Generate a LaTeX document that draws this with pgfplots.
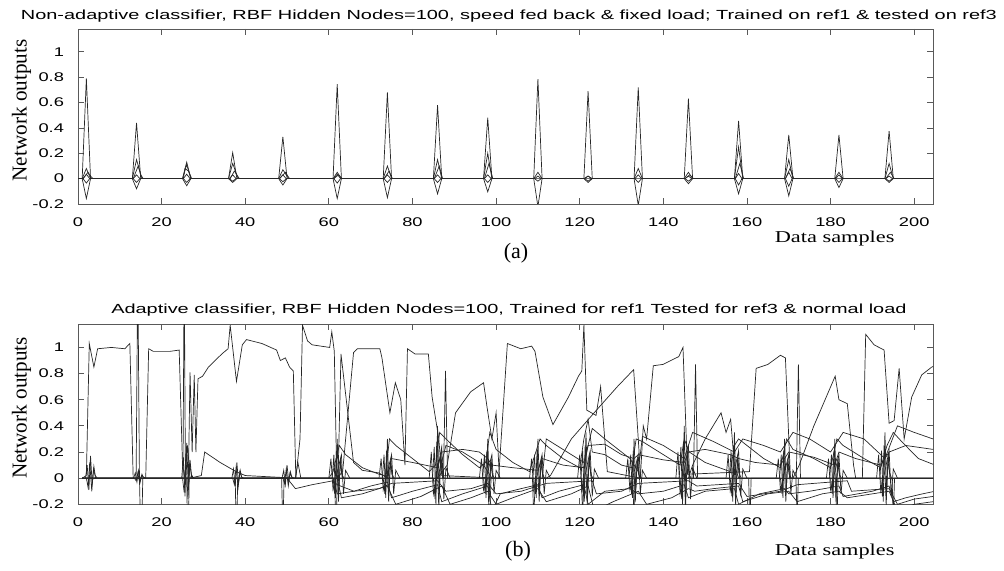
\documentclass[border=0pt]{standalone}
\usepackage{fontspec}
\usepackage{pgfplots}
\pgfplotsset{compat=1.18}
\setmainfont{Liberation Serif}
\newfontfamily\mltitle[FakeStretch=1.51]{Liberation Sans}
\newfontfamily\mltick[FakeStretch=1.45]{Liberation Sans}
\newfontfamily\serxlab[FakeStretch=1.345]{Liberation Serif}

\pgfplotsset{
  matlabstyle/.style={
    scale only axis,
    width=427.5pt,
    xmin=0, xmax=204.5,
    ymin=-0.2,
    xtick={0,20,...,200},
    ytick={-0.2,0,0.2,0.4,0.6,0.8,1},
    tick align=inside,
    xtick pos=both, ytick pos=both,
    major tick length=3pt,
    axis line style={black!65, line width=0.4pt},
    tick style={black!65, line width=0.4pt},
    /pgf/number format/assume math mode=true,
    /pgf/number format/fixed,
    xticklabel style={font=\mltick\fontsize{6.3}{7}\selectfont, yshift=-3.25pt},
    yticklabel style={font=\mltick\fontsize{6.3}{7}\selectfont, xshift=-3.5pt},
    every axis title shift=0pt,
    title style={font=\mltitle\fontsize{6.6}{8}\selectfont, anchor=base},
    xlabel style={font=\serxlab\fontsize{8.3}{10}\selectfont, anchor=base},
    ylabel style={font=\fontsize{10.6}{12}\selectfont, anchor=center,
                  at={(axis description cs:-0.066,0.535)}},
    cycle list={{black!85, solid, mark=none}},
    every axis plot post/.append style={black!85, solid, mark=none, line width=0.35pt},
  }
}

\begin{document}
\begin{tikzpicture}
\path[use as bounding box] (0,0) rectangle (502pt,-285.5pt);

%% ---------------- panel (a) ----------------
\begin{axis}[matlabstyle,
  at={(39pt,-14.5pt)}, anchor=north west,
  height=87.5pt, ymax=1.18,
  title={Non-adaptive classifier, RBF Hidden Nodes=100, speed fed back \& fixed load; Trained on ref1 \& tested on ref3},
  title style={at={(axis description cs:0.504,1)}, yshift=4.85pt},
  xlabel={Data samples},
  xlabel style={at={(axis description cs:0.885,0)}, yshift=-19pt},
  ylabel={Network outputs},
]
% main positive spikes
\addplot coordinates {(0,0)(1,0)(2,0.79)(3,0)(13,0)(14,0.44)(15,0)(25,0)(26,0.13)(27,0)
(36,0)(37,0.205)(38,0)(48,0)(49,0.33)(50,0)(61,0)(62,0.745)(63,0)(73,0)(74,0.68)(75,0)
(85,0)(86,0.58)(87,0)(97,0)(98,0.48)(99,0)(109,0)(110,0.785)(111,0)(121,0)(122,0.69)(123,0)
(133,0)(134,0.72)(135,0)(145,0)(146,0.63)(147,0)(157,0)(158,0.455)(159,0)(169,0)(170,0.345)(171,0)
(181,0)(182,0.345)(183,0)(193,0)(194,0.375)(195,0)(204.5,0)};
% negative dips
\addplot coordinates {(0,0)(1,0)(2,-0.157)(3,0)(13,0)(14,-0.08)(15,0)(25,0)(26,-0.056)(27,0)
(36,0)(37,-0.03)(38,0)(48,0)(49,-0.05)(50,0)(61,0)(62,-0.157)(63,0)(73,0)(74,-0.15)(75,0)
(85,0)(86,-0.12)(87,0)(97,0)(98,-0.104)(99,0)(109,0)(110,-0.22)(111,0)(121,0)(122,-0.03)(123,0)
(133,0)(134,-0.21)(135,0)(145,0)(146,-0.04)(147,0)(157,0)(158,-0.12)(159,0)(169,0)(170,-0.136)(171,0)
(181,0)(182,-0.07)(183,0)(193,0)(194,-0.03)(195,0)(204.5,0)};
% secondary spikes
\addplot coordinates {(0,0)(1,0)(2,0.08)(3,0)(13,0)(14,0.15)(15.3,0)(25,0)(26,0.11)(27,0)
(36,0)(37,0.12)(38.3,0)(48,0)(49,0.07)(50.4,0)(61,0)(62,0.05)(63,0)(73,0)(74,0.1)(75,0)
(85,0)(86,0.15)(87,0)(97,0)(98,0.2)(99,0)(109,0)(110,0.05)(111,0)(121,0)(122,0.02)(123,0)
(133,0)(134,0.08)(135,0)(145,0)(146,0.05)(147,0)(157,0)(158,0.25)(159,0)(169,0)(170,0.15)(171,0)
(181,0)(182,0.05)(183,0)(193,0)(194,0.12)(195,0)(204.5,0)};
% third lines
\addplot coordinates {(0,0)(1.2,0)(2.4,0.05)(3,0.02)(3.6,0)(13.2,0)(14.4,0.1)(15,0.03)(15.6,0)
(25.2,0)(25.6,0.08)(26.4,0.06)(27.2,0)(36.4,0)(37.4,0.06)(38.6,0)(48.2,0)(49.6,0.05)(50.6,0)
(61.2,0)(62.3,0.03)(63.2,0)(73.2,0)(74.4,0.06)(75.2,0)(85.2,0)(86.4,0.1)(87.2,0)(97.2,0)(98.3,0.12)(99.2,0)
(145.2,0)(146.3,0.03)(147.2,0)(157.2,0)(158.3,0.12)(159.2,0)(169.2,0)(170.3,0.08)(171.2,0)
(193.2,0)(194.3,0.05)(195.2,0)(204.5,0)};
% small diamonds
\addplot coordinates {(0,0)(1.2,0)(2,0.035)(2.8,0)(13.2,0)(14,0.03)(14.8,0)(25.2,0)(26,0.035)(26.8,0)
(36.2,0)(37,0.03)(37.8,0)(48.2,0)(49,0.03)(49.8,0)(61.2,0)(62,0.035)(62.8,0)(73.2,0)(74,0.03)(74.8,0)
(85.2,0)(86,0.03)(86.8,0)(97.2,0)(98,0.03)(98.8,0)(109.2,0)(110,0.02)(110.8,0)(121.2,0)(122,0.02)(122.8,0)
(133.2,0)(134,0.03)(134.8,0)(145.2,0)(146,0.02)(146.8,0)(157.2,0)(158,0.04)(158.8,0)(169.2,0)(170,0.05)(170.8,0)
(181.2,0)(182,0.03)(182.8,0)(193.2,0)(194,0.02)(194.8,0)(204.5,0)};
\addplot coordinates {(0,0)(1.2,0)(2,-0.035)(2.8,0)(13.2,0)(14,-0.03)(14.8,0)(25.2,0)(26,-0.03)(26.8,0)
(36.2,0)(37,-0.02)(37.8,0)(48.2,0)(49,-0.025)(49.8,0)(61.2,0)(62,-0.035)(62.8,0)(73.2,0)(74,-0.03)(74.8,0)
(85.2,0)(86,-0.03)(86.8,0)(97.2,0)(98,-0.03)(98.8,0)(109.2,0)(110,-0.02)(110.8,0)(121.2,0)(122,-0.02)(122.8,0)
(133.2,0)(134,-0.03)(134.8,0)(145.2,0)(146,-0.02)(146.8,0)(157.2,0)(158,-0.05)(158.8,0)(169.2,0)(170,-0.06)(170.8,0)
(181.2,0)(182,-0.03)(182.8,0)(193.2,0)(194,-0.02)(194.8,0)(204.5,0)};
\end{axis}

%% ---------------- panel (b) ----------------
\begin{axis}[matlabstyle,
  at={(39pt,-162.15pt)}, anchor=north west,
  height=90pt, ymax=1.177,
  title={Adaptive classifier, RBF Hidden Nodes=100, Trained for ref1 Tested for ref3 \& normal load},
  title style={at={(axis description cs:0.504,1)}, yshift=5.15pt},
  xlabel={Data samples},
  xlabel style={at={(axis description cs:0.885,0)}, yshift=-25.5pt},
  ylabel={Network outputs},
]
% B1 main output
\addplot coordinates {(1,0)(2,0.02)(2.7,1.03)(3.8,0.85)(4.7,0.99)(8,1.0)(11.2,0.99)(12.4,1.03)(13.2,0.0)
(16.2,0.0)(16.9,0.99)(18,0.97)(22,0.97)(24.2,0.98)(25,0.1)(25.6,0.0)(26.4,0.0)(26.8,0.81)(27.3,0.2)
(27.8,0.79)(28.2,0.2)(28.7,0.76)(29.8,0.78)(31.2,0.85)(34.4,0.95)(35.9,0.99)(36.4,1.17)(37.9,0.74)
(39.3,1.02)(40.3,1.06)(44,1.03)(47.5,0.98)(48.4,0.9)(49.6,0.92)(50.6,0.85)(51.5,0.82)(52.1,0.0)
(53.1,0.3)(53.7,1.17)(54.9,1.05)(56,1.02)(60.2,1.0)(60.7,1.12)(61.3,0.97)(61.9,0.0)(63.3,0.05)
(65.9,0.96)(66.8,0.99)(72.2,0.99)(72.7,0.92)(74.6,0.5)(75.9,0.73)(77.2,0.6)(78.2,0.1)(78.8,0.99)
(80.6,0.95)(83.8,0.95)(84.7,0.62)(86.3,0.3)(87,0.02)(100.6,0.0)(102.7,1.03)(105.9,0.99)(108.5,1.01)
(109.3,0.97)(111.2,0.62)(113.6,0.41)(117.3,0.62)(119.7,0.78)(120.5,0.82)(121,1.17)(121.7,0.52)
(123.9,0.48)(125,0.7)(126.6,0.05)(134.5,0.0)(135.2,0.4)(136,0.3)(137.6,0.86)(139.9,0.87)(143.7,0.93)
(144.7,1.0)(145.8,0.03)(160.6,0.05)(162.2,0.84)(165,0.87)(168,0.94)(169.2,0.92)(170.4,0.0)(187.6,0.0)
(188.4,1.1)(190.4,1.02)(192.8,0.98)(194,0.42)(195.2,0.44)(196.4,0.84)(197.6,0.3)(199.4,0.62)
(201.8,0.79)(204.2,0.85)(205,0.86)};
% B2 complementary ramps
\addplot coordinates {(1,0)(25.5,0.0)(26.2,0.25)(26.8,0.0)(29.5,0.02)(30.3,0.2)(34,0.12)(37.8,0.05)
(40,0.02)(52,0.0)(52.6,0.12)(53.3,0.0)(62.2,0.0)(62.9,0.95)(65.9,0.12)(68,0.06)(72,0.04)(74,0.0)
(86,0.0)(88.3,0.1)(90.3,0.5)(93.9,0.66)(97,0.73)(97.8,0.55)(99,0.3)(100,0.5)(100.8,0.0)(112,0.0)
(113,0.02)(118,0.3)(124,0.52)(129,0.7)(132.9,0.83)(133.8,0.4)(134.6,0.0)(146,0.0)(147,0.1)(150,0.3)
(153.8,0.5)(155,0.35)(156.1,0.45)(157,0.1)(158,0.0)(171,0.0)(172.5,0.1)(176,0.4)(181.1,0.78)(182,0.6)
(184,0.57)(185.5,0.1)(186,0.0)(204.5,0.0)};
% B3 tall positive spikes
\addplot coordinates {(1,0)(13.9,0.0)(14.3,1.6)(14.7,0.0)(25.1,0.0)(25.4,1.6)(25.7,0.0)(87.4,0.0)
(87.9,0.82)(88.4,0.0)(147.2,0.0)(147.7,0.87)(148.2,0.0)(171.8,0.0)(172.3,0.87)(172.8,0.0)(204.5,0)};
% B4 deep negative spikes
\addplot coordinates {(1,0)(14.7,0.0)(15.1,-0.6)(15.5,0.0)(26,0.0)(26.3,-0.6)(26.6,0.0)(37.6,0.0)
(37.9,-0.5)(38.2,0.0)(48.7,0.0)(49,-0.4)(49.3,0.0)(61.4,0.0)(61.7,-0.5)(62,0.0)(98,0.0)(98.4,-0.35)
(98.8,0.0)(108.7,0.0)(109,-0.3)(109.4,0.0)(120.4,0.0)(120.7,-0.3)(121,0.0)(132.7,0.0)(133,-0.35)
(133.3,0.0)(160.4,0.0)(160.7,-0.35)(161,0.0)(171.7,0.0)(172,-0.3)(172.3,0.0)(181.2,0.0)(181.5,-0.35)
(181.8,0.0)(194.7,0.0)(195,-0.3)(195.3,0.0)(204.5,0)};
% B5 positive decays
\addplot coordinates {(1,0)(60,0.0)(61,0.05)(62.5,0.25)(64,0.18)(68,0.08)(72,0.03)(73.5,0.02)(74.5,0.3)
(76,0.25)(80,0.15)(84,0.05)(85.5,0.1)(86.5,0.35)(88,0.3)(92,0.18)(96,0.08)(97.5,0.12)(98.5,0.35)
(100,0.22)(104,0.12)(108,0.05)(109.5,0.2)(110.5,0.3)(112,0.25)(116,0.15)(120,0.08)(121,0.3)(122,0.45)
(123,0.2)(126,0.18)(130,0.1)(132.5,0.08)(133.5,0.3)(135,0.28)(140,0.18)(144,0.1)(145,0.3)(146.2,0.2)
(150,0.12)(156,0.05)(157,0.25)(158,0.3)(160,0.25)(164,0.15)(168,0.08)(169.5,0.3)(171,0.22)(176,0.15)
(180,0.08)(181.5,0.3)(183,0.25)(188,0.15)(192,0.08)(193.5,0.25)(195,0.35)(197,0.28)(201,0.15)(205,0.1)};
% B6 negative decays
\addplot coordinates {(1,0)(61,0.0)(62,-0.12)(66,-0.1)(70,-0.06)(74,-0.03)(75,-0.15)(80,-0.1)(86,-0.05)
(87,-0.18)(92,-0.12)(98,-0.06)(99,-0.25)(101,-0.12)(106,-0.08)(110,-0.05)(111,-0.15)(115,-0.1)
(121,-0.05)(122,-0.2)(126,-0.1)(132,-0.08)(134,-0.12)(140,-0.1)(145,-0.05)(146,-0.15)(150,-0.1)
(157,-0.08)(158,-0.2)(163,-0.12)(169,-0.08)(170,-0.12)(175,-0.1)(182,-0.06)(183,-0.14)(190,-0.1)
(194,-0.06)(195,-0.18)(198,-0.15)(202,-0.12)(205,-0.1)};
% B7 cluster jitter
\addplot coordinates {(1,0)(1.8,0)(2.2,0.10)(2.6,-0.09)(3,0.17)(3.4,-0.05)(3.8,0.09)(4.2,0)
(13.3,0)(13.7,0.04)(14.1,-0.03)(14.5,0.06)(14.9,-0.02)(15.3,0.03)(15.7,0)
(24.8,0)(25.2,0.16)(25.6,-0.14)(26,0.27)(26.4,-0.08)(26.8,0.14)(27.2,0)
(36.8,0)(37.2,0.07)(37.6,-0.06)(38,0.12)(38.4,-0.04)(38.8,0.06)(39.2,0)
(48.8,0)(49.2,0.06)(49.6,-0.05)(50,0.1)(50.4,-0.03)(50.8,0.05)(51.2,0)
(60.8,0)(61.2,0.18)(61.6,-0.15)(62,0.3)(62.4,-0.09)(62.8,0.15)(63.2,0)
(72.8,0)(73.2,0.18)(73.6,-0.15)(74,0.3)(74.4,-0.09)(74.8,0.15)(75.2,0)
(84.8,0)(85.2,0.24)(85.6,-0.2)(86,0.4)(86.4,-0.12)(86.8,0.2)(87.2,0)
(96.8,0)(97.2,0.18)(97.6,-0.15)(98,0.3)(98.4,-0.09)(98.8,0.15)(99.2,0)
(108.8,0)(109.2,0.18)(109.6,-0.15)(110,0.3)(110.4,-0.09)(110.8,0.15)(111.2,0)
(120.3,0)(120.7,0.21)(121.1,-0.18)(121.5,0.35)(121.9,-0.11)(122.3,0.18)(122.7,0)
(131.8,0)(132.2,0.18)(132.6,-0.15)(133,0.3)(133.4,-0.09)(133.8,0.15)(134.2,0)
(143.8,0)(144.2,0.24)(144.6,-0.2)(145,0.4)(145.4,-0.12)(145.8,0.2)(146.2,0)
(155.8,0)(156.2,0.21)(156.6,-0.18)(157,0.35)(157.4,-0.11)(157.8,0.18)(158.2,0)
(167.8,0)(168.2,0.18)(168.6,-0.15)(169,0.3)(169.4,-0.09)(169.8,0.15)(170.2,0)
(179.8,0)(180.2,0.18)(180.6,-0.15)(181,0.3)(181.4,-0.09)(181.8,0.15)(182.2,0)
(191.8,0)(192.2,0.21)(192.6,-0.18)(193,0.35)(193.4,-0.11)(193.8,0.18)(194.2,0)(204.5,0)};
% B8 cluster jitter 2
\addplot coordinates {(1,0)(2,0)(2.4,-0.07)(2.8,0.12)(3.3,-0.10)(3.7,0.07)(4.1,0.02)(4.6,0)
(13.5,0)(13.9,-0.02)(14.3,0.04)(14.8,-0.04)(15.2,0.02)(15.6,0.01)(16.1,0)
(25,0)(25.4,-0.11)(25.8,0.19)(26.3,-0.16)(26.7,0.11)(27.1,0.03)(27.6,0)
(37,0)(37.4,-0.05)(37.8,0.08)(38.3,-0.07)(38.7,0.05)(39.1,0.01)(39.6,0)
(49,0)(49.4,-0.04)(49.8,0.07)(50.3,-0.06)(50.7,0.04)(51.1,0.01)(51.6,0)
(61,0)(61.4,-0.12)(61.8,0.21)(62.3,-0.18)(62.7,0.12)(63.1,0.03)(63.6,0)
(73,0)(73.4,-0.12)(73.8,0.21)(74.3,-0.18)(74.7,0.12)(75.1,0.03)(75.6,0)
(85,0)(85.4,-0.16)(85.8,0.28)(86.3,-0.24)(86.7,0.16)(87.1,0.04)(87.6,0)
(97,0)(97.4,-0.12)(97.8,0.21)(98.3,-0.18)(98.7,0.12)(99.1,0.03)(99.6,0)
(109,0)(109.4,-0.12)(109.8,0.21)(110.3,-0.18)(110.7,0.12)(111.1,0.03)(111.6,0)
(120.5,0)(120.9,-0.14)(121.3,0.25)(121.8,-0.21)(122.2,0.14)(122.6,0.04)(123.1,0)
(132,0)(132.4,-0.12)(132.8,0.21)(133.3,-0.18)(133.7,0.12)(134.1,0.03)(134.6,0)
(144,0)(144.4,-0.16)(144.8,0.28)(145.3,-0.24)(145.7,0.16)(146.1,0.04)(146.6,0)
(156,0)(156.4,-0.14)(156.8,0.25)(157.3,-0.21)(157.7,0.14)(158.1,0.04)(158.6,0)
(168,0)(168.4,-0.12)(168.8,0.21)(169.3,-0.18)(169.7,0.12)(170.1,0.03)(170.6,0)
(180,0)(180.4,-0.12)(180.8,0.21)(181.3,-0.18)(181.7,0.12)(182.1,0.03)(182.6,0)
(192,0)(192.4,-0.14)(192.8,0.25)(193.3,-0.21)(193.7,0.14)(194.1,0.04)(194.6,0)(204.5,0)};
% B9 wider cluster activity
\addplot coordinates {(1,0)(60,0)(60.5,0.15)(61,-0.09)(63,0.18)(63.5,-0.12)(64,0.06)(65,0)
(72,0)(72.5,0.15)(73,-0.09)(75,0.18)(75.5,-0.12)(76,0.06)(77,0)
(84,0)(84.5,0.2)(85,-0.12)(87,0.24)(87.5,-0.16)(88,0.08)(89,0)
(96,0)(96.5,0.15)(97,-0.09)(99,0.18)(99.5,-0.12)(100,0.06)(101,0)
(108,0)(108.5,0.15)(109,-0.09)(111,0.18)(111.5,-0.12)(112,0.06)(113,0)
(119.5,0)(120,0.18)(120.5,-0.1)(122.5,0.21)(123,-0.14)(123.5,0.07)(124.5,0)
(131,0)(131.5,0.15)(132,-0.09)(134,0.18)(134.5,-0.12)(135,0.06)(136,0)
(143,0)(143.5,0.2)(144,-0.12)(146,0.24)(146.5,-0.16)(147,0.08)(148,0)
(155,0)(155.5,0.18)(156,-0.1)(158,0.21)(158.5,-0.14)(159,0.07)(160,0)
(167,0)(167.5,0.15)(168,-0.09)(170,0.18)(170.5,-0.12)(171,0.06)(172,0)
(179,0)(179.5,0.15)(180,-0.09)(182,0.18)(182.5,-0.12)(183,0.06)(184,0)
(191,0)(191.5,0.18)(192,-0.1)(194,0.21)(194.5,-0.14)(195,0.07)(196,0)(204.5,0)};
% B10 slow positive lines
\addplot coordinates {(1,0)(74,0.0)(75,0.15)(80,0.12)(86,0.08)(87,0.2)(92,0.22)(96,0.2)(98,0.15)(99,0.1)
(104,0.08)(110,0.06)(111,0.15)(116,0.1)(121,0.08)(122,0.25)(126,0.26)(130,0.18)(133,0.15)(134,0.18)
(140,0.14)(145,0.12)(146,0.2)(150,0.22)(156,0.18)(158,0.15)(162,0.12)(168,0.1)(170,0.2)(176,0.16)
(181,0.1)(182,0.2)(186,0.15)(192,0.1)(194,0.2)(198,0.25)(204.5,0.22)};
% B11 slow negative lines
\addplot coordinates {(1,0)(50,0.0)(52,-0.08)(56,-0.05)(61,-0.02)(62,-0.05)(66,-0.1)(72,-0.08)(75,-0.04)
(86,-0.02)(88,-0.1)(94,-0.08)(98,-0.04)(100,-0.12)(106,-0.1)(112,-0.04)(123,-0.02)(124,-0.12)(130,-0.1)
(134,-0.04)(146,-0.02)(148,-0.06)(158,-0.04)(160,-0.14)(168,-0.1)(172,-0.05)(184,-0.02)(185,-0.1)
(194,-0.08)(196,-0.2)(200,-0.16)(204.5,-0.14)};
% B12 further positive decays
\addplot coordinates {(1,0)(86,0.0)(88,0.25)(92,0.2)(97,0.1)(99,0.0)(111,0.0)(112,0.3)(116,0.22)(121,0.12)
(123,0.38)(126,0.3)(132,0.15)(134,0.05)(135,0.32)(140,0.25)(145,0.15)(147,0.35)(152,0.28)(157,0.2)
(159,0.3)(164,0.25)(168,0.2)(171,0.35)(175,0.3)(180,0.2)(183,0.35)(188,0.3)(193,0.15)(196,0.4)
(200,0.35)(204.5,0.3)};
% B13 further negative decays
\addplot coordinates {(1,0)(62,0.0)(63,-0.15)(68,-0.12)(74,-0.06)(76,-0.2)(82,-0.14)(87,-0.06)(89,-0.2)
(94,-0.15)(98,-0.1)(100,-0.2)(104,-0.15)(110,-0.08)(112,-0.18)(118,-0.12)(122,-0.06)(123.5,-0.25)
(128,-0.18)(134,-0.1)(136,-0.2)(142,-0.15)(146,-0.08)(147.5,-0.1)(152,-0.08)(158,-0.06)(159,-0.18)
(165,-0.12)(170,-0.1)(172,-0.18)(178,-0.12)(182,-0.1)(184,-0.15)(190,-0.12)(194,-0.1)(196,-0.25)
(200,-0.2)(204.5,-0.18)};
\end{axis}

\node[font=\fontsize{11}{12}\selectfont, anchor=base] at (258pt,-129.25pt) {(a)};
\node[font=\fontsize{11}{12}\selectfont, anchor=base] at (259pt,-278pt) {(b)};
\end{tikzpicture}
\end{document}
